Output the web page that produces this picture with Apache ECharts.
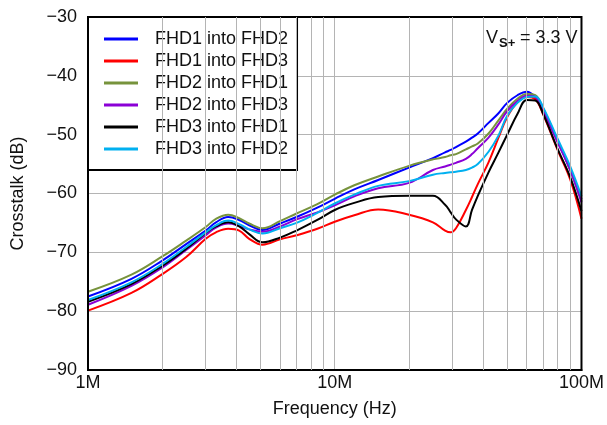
<!DOCTYPE html>
<html>
<head>
<meta charset="utf-8">
<script src="https://cdn.jsdelivr.net/npm/echarts@6/dist/echarts.min.js"></script>
<style>
  html, body { margin: 0; padding: 0; background: #fff; }
  #chart { width: 607px; height: 425px; }
</style>
</head>
<body>
<div id="chart"></div>
<script>
// frequency points in MHz
const freqMHz = [1, 1.5, 2, 2.5, 3, 3.3, 3.7, 4.1, 4.5, 5.1, 6, 7, 8.5, 10, 12, 15, 20, 25, 28, 29.5, 31, 34, 36, 38, 42, 46, 50, 55, 60, 65, 70, 80, 90, 100]

// crosstalk in dB, one value per frequency point
const fhd1IntoFhd2 = [-77.5, -74.5, -71.4, -68.6, -66.3, -64.9, -64.0, -64.5, -65.4, -66.2, -65.1, -64.0, -62.4, -60.9, -59.3, -57.7, -55.6, -54.0, -53.0, -52.6, -52.1, -51.2, -50.5, -49.8, -48.0, -46.4, -44.6, -43.3, -42.7, -43.6, -45.8, -51.0, -56.0, -61.0]
const fhd1IntoFhd3 = [-79.9, -76.9, -73.7, -70.8, -67.7, -66.6, -66.0, -66.3, -67.7, -68.7, -67.8, -67.1, -66.0, -64.8, -63.7, -62.7, -63.6, -64.9, -66.3, -66.6, -65.9, -62.8, -60.6, -58.4, -54.7, -50.6, -47.0, -44.5, -43.6, -44.0, -46.6, -52.6, -57.6, -64.3]
const fhd2IntoFhd1 = [-76.7, -73.8, -70.7, -68.0, -65.7, -64.3, -63.6, -64.2, -65.1, -65.9, -64.7, -63.4, -61.8, -60.2, -58.6, -57.1, -55.3, -54.2, -53.8, -53.5, -53.3, -52.5, -52.0, -51.5, -49.8, -47.6, -45.6, -43.9, -43.1, -43.3, -45.6, -51.0, -56.0, -61.3]
const fhd2IntoFhd3 = [-78.9, -75.7, -72.6, -69.6, -67.1, -65.8, -65.1, -65.5, -66.1, -66.5, -65.6, -64.4, -63.2, -62.0, -60.5, -59.1, -58.2, -56.0, -55.4, -55.1, -54.8, -54.1, -53.3, -52.3, -50.5, -48.3, -46.0, -44.3, -43.4, -43.6, -45.9, -51.3, -56.0, -61.5]
const fhd3IntoFhd1 = [-78.4, -75.4, -72.3, -69.4, -66.7, -65.6, -64.9, -65.6, -66.9, -68.3, -67.5, -66.3, -64.5, -62.8, -61.6, -60.6, -60.4, -60.4, -61.9, -63.2, -64.4, -65.6, -62.8, -60.4, -56.4, -53.1, -50.0, -46.5, -44.1, -44.2, -46.5, -52.4, -57.2, -63.0]
const fhd3IntoFhd2 = [-78.1, -75.1, -72.0, -69.1, -66.6, -65.4, -64.6, -65.2, -66.1, -66.8, -65.9, -65.0, -63.3, -61.7, -60.2, -58.7, -57.9, -56.8, -56.5, -56.4, -56.3, -56.0, -55.6, -55.0, -52.9, -50.2, -46.8, -44.6, -43.6, -43.5, -45.4, -50.7, -55.4, -60.5]

const seriesNames = ['FHD1 into FHD2', 'FHD1 into FHD3', 'FHD2 into FHD1', 'FHD2 into FHD3', 'FHD3 into FHD1', 'FHD3 into FHD2']
const seriesValues = [fhd1IntoFhd2, fhd1IntoFhd3, fhd2IntoFhd1, fhd2IntoFhd3, fhd3IntoFhd1, fhd3IntoFhd2]
const colors = ['#0000ff', '#ff0000', '#77933c', '#8b00d6', '#000000', '#00b0f0']

// minor vertical grid lines (Hz)
const minorGrid = [2e6, 3e6, 4e6, 5e6, 6e6, 7e6, 8e6, 9e6, 2e7, 3e7, 4e7, 5e7, 6e7, 7e7, 8e7, 9e7]
const xTickLabels = { 6: '1M', 7: '10M', 8: '100M' }

const font = "'Liberation Sans', Arial, sans-serif"
const gridColor = '#b4b4b4'

const chart = echarts.init(document.getElementById('chart'))

const lineSeries = seriesNames.map((name, i) => {
  return {
    name: name,
    type: 'line',
    smooth: 0.4,
    showSymbol: false,
    z: 3,
    lineStyle: { width: 2, color: colors[i] },
    itemStyle: { color: colors[i] },
    data: freqMHz.map((f, k) => [f * 1e6, seriesValues[i][k]])
  }
})

const option = {
  animation: false,
  backgroundColor: '#fff',
  grid: {
    left: 88,
    right: 21,
    top: 17,
    bottom: 55,
    show: true,
    borderColor: '#000',
    borderWidth: 2,
    z: 5
  },
  legend: {
    orient: 'vertical',
    left: 88,
    top: 17,
    padding: [13, 9, 12, 16],
    itemGap: 4,
    itemWidth: 34,
    itemHeight: 3,
    icon: 'rect',
    backgroundColor: '#fff',
    borderColor: '#000',
    borderWidth: 2,
    borderRadius: 0,
    data: seriesNames,
    textStyle: {
      fontFamily: font,
      fontSize: 18,
      lineHeight: 18,
      color: '#111',
      padding: [0, 0, 0, 12]
    }
  },
  xAxis: {
    type: 'log',
    logBase: 10,
    min: 1e6,
    max: 1e8,
    name: 'Frequency (Hz)',
    nameLocation: 'middle',
    nameGap: 30,
    nameTextStyle: { fontFamily: font, fontSize: 18, color: '#111' },
    axisLine: { show: true, lineStyle: { color: '#000', width: 2 } },
    axisTick: { show: false },
    axisLabel: {
      fontFamily: font,
      fontSize: 18,
      color: '#111',
      margin: 4,
      formatter: function (v) {
        return xTickLabels[Math.round(Math.log10(v))] || ''
      }
    },
    splitLine: { show: true, lineStyle: { color: gridColor, width: 1 } }
  },
  yAxis: {
    type: 'value',
    min: -90,
    max: -30,
    interval: 10,
    name: 'Crosstalk (dB)',
    nameLocation: 'middle',
    nameGap: 61,
    nameTextStyle: { fontFamily: font, fontSize: 18, color: '#111' },
    axisLine: { show: true, lineStyle: { color: '#000', width: 2 } },
    axisTick: { show: false },
    axisLabel: {
      fontFamily: font,
      fontSize: 18,
      color: '#111',
      margin: 11,
      formatter: function (v) {
        return v < 0 ? '\u2212' + Math.abs(v) : String(v)
      }
    },
    splitLine: { show: true, lineStyle: { color: gridColor, width: 1 } }
  },
  graphic: [
    {
      type: 'rect',
      shape: { x: 470, y: 18, width: 114, height: 43 },
      style: { fill: '#fff' },
      z: 2
    },
    {
      type: 'text',
      x: 486,
      y: 29,
      z: 10,
      style: { text: 'V', fontFamily: font, fontSize: 18, fill: '#111' }
    },
    {
      type: 'text',
      x: 499,
      y: 37,
      z: 10,
      style: { text: 'S+', fontFamily: font, fontSize: 13, fontWeight: 'bold', fill: '#111' }
    },
    {
      type: 'text',
      x: 520,
      y: 29,
      z: 10,
      style: { text: '= 3.3 V', fontFamily: font, fontSize: 18, fill: '#111' }
    }
  ],
  series: [
    {
      name: 'minor grid',
      type: 'line',
      data: [],
      z: 1,
      markLine: {
        silent: true,
        symbol: 'none',
        label: { show: false },
        lineStyle: { type: 'solid', color: gridColor, width: 1 },
        data: minorGrid.map((v) => ({ xAxis: v }))
      }
    }
  ].concat(lineSeries)
}

chart.setOption(option)
</script>
</body>
</html>
